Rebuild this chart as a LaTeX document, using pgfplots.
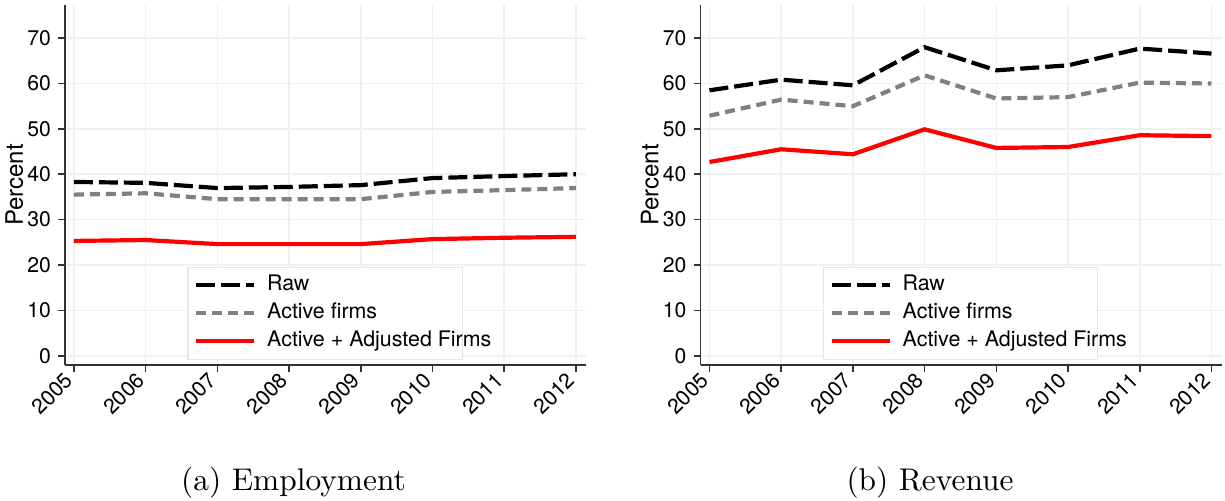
\documentclass[border=0pt]{standalone}
\usepackage{fontspec}
\setsansfont{TeX Gyre Heros}
\newfontfamily\capfont{lmroman10-regular}[Extension=.otf]
\usepackage{pgfplots}
\pgfplotsset{compat=1.18}

\definecolor{gridc}{HTML}{EAF2F3}
\definecolor{legc}{HTML}{E2E8E8}
\definecolor{actgray}{HTML}{808080}
\definecolor{axc}{HTML}{333333}

\pgfplotsset{
  panel/.style={
    scale only axis, width=260.5pt, height=180pt,
    xmin=2004.875, xmax=2012.14, ymin=-2.05, ymax=77.3,
    axis x line*=bottom, axis y line*=left,
    axis line style={-, line width=0.8pt, color=axc},
    xtick={2005,2006,...,2012}, ytick={0,10,...,70},
    grid=major, major grid style={gridc, line width=0.8pt},
    tick align=outside, major tick length=3.5pt,
    tick style={axc, line width=0.8pt},
    /pgf/number format/assume math mode=true,
    /pgf/number format/1000 sep={},
    x tick label style={rotate=45, anchor=east, font=\sffamily\fontsize{10.6}{12}\selectfont},
    y tick label style={font=\sffamily\fontsize{10.6}{12}\selectfont},
    ylabel={Percent}, ylabel shift=-4.8pt,
    ylabel style={font=\sffamily\fontsize{12}{14}\selectfont},
    legend cell align=left,
    legend style={at={(rel axis cs:0.235,0.014)}, anchor=south west,
      draw=legc, line width=0.6pt, fill=white,
      font=\sffamily\fontsize{10.7}{13}\selectfont,
      inner xsep=3pt, inner ysep=2pt, row sep=0pt,
      nodes={text height=8.2pt, text depth=2.6pt, inner ysep=1.6pt}},
    legend image code/.code={\draw[#1] (0pt,0pt) -- (29pt,0pt); \path (32.5pt,0pt);},
  },
  rawline/.style={black, line width=2.1pt, dash pattern=on 9.5pt off 3pt},
  actline/.style={actgray, line width=2.1pt, dash pattern=on 5pt off 3pt},
  adjline/.style={red, line width=2.1pt},
}

\begin{document}
\begin{tikzpicture}
\useasboundingbox (0,0) rectangle (612.5pt,250pt);

% Employment
\begin{axis}[panel, at={(32.5pt,67.5pt)}, anchor=south west]
\addplot[rawline] coordinates {(2005,38.3) (2006,38.1) (2007,36.95) (2008,37.2) (2009,37.6) (2010,39.15) (2011,39.6) (2012,40.0)};
\addplot[actline] coordinates {(2005,35.5) (2006,35.8) (2007,34.5) (2008,34.5) (2009,34.5) (2010,36.1) (2011,36.5) (2012,36.95)};
\addplot[adjline] coordinates {(2005,25.3) (2006,25.5) (2007,24.6) (2008,24.6) (2009,24.6) (2010,25.7) (2011,26.0) (2012,26.2)};
\legend{Raw, Active firms, \makebox[92.5pt][l]{Active + Adjusted Firms}}
\end{axis}

% Revenue
\begin{axis}[panel, at={(350.25pt,67.5pt)}, anchor=south west]
\addplot[rawline] coordinates {(2005,58.5) (2006,60.85) (2007,59.6) (2008,68.0) (2009,62.9) (2010,64.0) (2011,67.7) (2012,66.6)};
\addplot[actline] coordinates {(2005,52.9) (2006,56.45) (2007,55.0) (2008,61.8) (2009,56.7) (2010,57.0) (2011,60.2) (2012,60.0)};
\addplot[adjline] coordinates {(2005,42.7) (2006,45.5) (2007,44.4) (2008,49.9) (2009,45.8) (2010,46.0) (2011,48.6) (2012,48.4)};
\legend{Raw, Active firms, \makebox[92.5pt][l]{Active + Adjusted Firms}}
\end{axis}

\node[anchor=base, font=\capfont\fontsize{15.7}{18}\selectfont] at (146.75pt,5pt) {(a) Employment};
\node[anchor=base, font=\capfont\fontsize{15.7}{18}\selectfont] at (465pt,5pt) {(b) Revenue};
\end{tikzpicture}
\end{document}
